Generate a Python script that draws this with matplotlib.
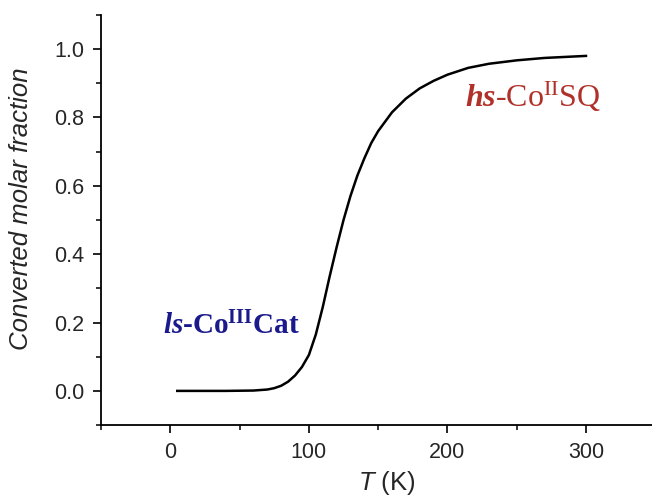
import matplotlib
matplotlib.use("Agg")
import matplotlib.pyplot as plt
from matplotlib.ticker import MultipleLocator

# converted molar fraction vs temperature
temperature = [5, 20, 40, 60, 70, 75, 80, 85, 90, 95, 100, 105, 110, 115, 120,
               125, 130, 135, 140, 145, 150, 160, 170, 180, 190, 200, 215, 230, 250, 270, 300]
fraction = [0.0, 0.0, 0.0, 0.001, 0.004, 0.008, 0.015, 0.027, 0.045, 0.07, 0.105, 0.165,
            0.245, 0.335, 0.42, 0.50, 0.57, 0.63, 0.68, 0.725, 0.76, 0.815, 0.855, 0.885,
            0.907, 0.925, 0.945, 0.957, 0.967, 0.974, 0.98]

x_ticks = [0, 100, 200, 300]
y_ticks = [0.0, 0.2, 0.4, 0.6, 0.8, 1.0]

plt.rcParams["font.family"] = ["Liberation Sans", "DejaVu Sans"]
plt.rcParams["mathtext.fontset"] = "custom"
plt.rcParams["mathtext.rm"] = "Liberation Serif"
plt.rcParams["mathtext.bf"] = "Liberation Serif:bold"
plt.rcParams["mathtext.it"] = "Liberation Serif:italic:bold"
plt.rcParams["mathtext.sf"] = "Liberation Sans:italic"

fig = plt.figure(figsize=(6.52, 4.96), dpi=100)
ax = fig.add_axes([0.155, 0.143, 0.850, 0.827])

ax.plot(temperature, fraction, color="black", lw=1.8)

ax.set_xlim(-50, 350)
ax.set_ylim(-0.1, 1.1)
ax.set_xticks(x_ticks)
ax.set_yticks(y_ticks)
ax.set_yticklabels([f"{v:.1f}" for v in y_ticks])
ax.xaxis.set_minor_locator(MultipleLocator(50))
ax.yaxis.set_minor_locator(MultipleLocator(0.1))
ax.tick_params(which="major", direction="out", length=6, width=1.2,
               labelsize=15.5, labelcolor="#262626", pad=6)
ax.tick_params(which="minor", direction="out", length=3.5, width=1.1)

for side in ("top", "right"):
    ax.spines[side].set_visible(False)
for side in ("left", "bottom"):
    ax.spines[side].set_linewidth(1.3)

ax.set_ylabel("Converted molar fraction", fontsize=18.5, style="italic", color="#262626")
ax.yaxis.set_label_coords(-0.123, 0.527)
ax.set_xlabel(r"$\mathsf{T}$ (K)", fontsize=18.5, color="#262626")
ax.xaxis.set_label_coords(0.516, -0.108)

ax.text(44, 0.19, r"$\mathit{ls}$-Co$^{\mathbf{III}}$Cat", fontsize=21,
        family=["Liberation Serif"], weight="bold", color="#1a1a8c",
        ha="center", va="center")
ax.text(262, 0.86, r"$\mathit{hs}$-Co$^{\mathrm{II}}$SQ", fontsize=23,
        family=["Liberation Serif"], color="#b0302a",
        ha="center", va="center")

fig.savefig("out.png", dpi=100)
